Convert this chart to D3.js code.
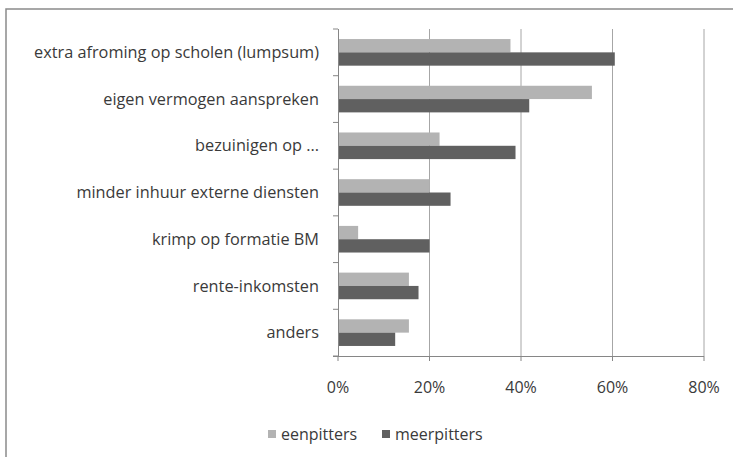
<!DOCTYPE html>
<html lang='en'>
<head>
  <meta charset='utf-8'>
  <script src="https://d3js.org/d3.v7.min.js"></script>
  <style>
    body { margin: 0; background: #fff; }
    text { font-family: "Open Sans", Lato, sans-serif; fill: #3a3a3a; }
  </style>
</head>
<body>
<div id="my_dataviz"></div>
<script>
  // data
  const categories = ["extra afroming op scholen (lumpsum)", "eigen vermogen aanspreken",
    "bezuinigen op ...", "minder inhuur externe diensten", "krimp op formatie BM",
    "rente-inkomsten", "anders"];
  const seriesNames = ["eenpitters", "meerpitters"];
  const eenpitters = [37.7, 55.5, 22.2, 20.0, 4.4, 15.5, 15.5];
  const meerpitters = [60.5, 41.8, 38.8, 24.6, 20.0, 17.6, 12.5];
  const xTicks = [0, 20, 40, 60, 80];
  const colors = ["#b3b3b3", "#606060"];

  const W = 733, H = 457;
  const margin = {top: 29, right: 29, bottom: 101, left: 338};
  const width = W - margin.left - margin.right,
        height = H - margin.top - margin.bottom;

  const root = d3.select("#my_dataviz").append("svg")
      .attr("width", W).attr("height", H);

  // outer chart frame (runs off the right and bottom edges)
  root.append("rect")
      .attr("x", 6).attr("y", 9)
      .attr("width", W).attr("height", H)
      .attr("fill", "none").attr("stroke", "#8a8a8a").attr("stroke-width", 1.5);

  const svg = root.append("g")
      .attr("transform", `translate(${margin.left}, ${margin.top})`);

  const x = d3.scaleLinear().domain([0, 80]).range([0, width]);
  const y = d3.scaleBand().domain(categories).range([0, height]);
  const inner = d3.scaleBand().domain(seriesNames)
      .range([y.bandwidth() * 0.215, y.bandwidth() * 0.785]);

  // gridlines
  svg.append("g").selectAll("line")
    .data(xTicks.slice(1))
    .join("line")
      .attr("x1", d => x(d)).attr("x2", d => x(d))
      .attr("y1", 0).attr("y2", height)
      .attr("stroke", "#a6a6a6").attr("stroke-width", 1);

  // bars
  const series = [eenpitters, meerpitters];
  series.forEach(function(vals, s) {
    svg.append("g").selectAll("rect")
      .data(vals)
      .join("rect")
        .attr("x", 0)
        .attr("y", (d, i) => y(categories[i]) + inner(seriesNames[s]))
        .attr("width", d => x(d))
        .attr("height", inner.bandwidth())
        .attr("fill", colors[s]);
  });

  // left axis
  const yAxis = svg.append("g");
  yAxis.append("line")
      .attr("x1", 0.5).attr("x2", 0.5).attr("y1", 0).attr("y2", height)
      .attr("stroke", "#868686");
  yAxis.selectAll("line.tk")
    .data(d3.range(categories.length + 1))
    .join("line").attr("class", "tk")
      .attr("x1", -5).attr("x2", 0)
      .attr("y1", d => d * y.step()).attr("y2", d => d * y.step())
      .attr("stroke", "#868686");
  yAxis.selectAll("text")
    .data(categories)
    .join("text")
      .attr("x", -19)
      .attr("y", d => y(d) + y.bandwidth() / 2)
      .attr("dy", "0.35em")
      .attr("text-anchor", "end")
      .attr("font-size", 16.3)
      .text(d => d);

  // bottom axis
  const xAxis = svg.append("g").attr("transform", `translate(0, ${height})`);
  xAxis.append("line")
      .attr("x1", -5).attr("x2", width).attr("y1", 0.5).attr("y2", 0.5)
      .attr("stroke", "#868686");
  xAxis.selectAll("line.tk")
    .data(xTicks)
    .join("line").attr("class", "tk")
      .attr("x1", d => x(d)).attr("x2", d => x(d))
      .attr("y1", 0).attr("y2", 5)
      .attr("stroke", "#868686");
  xAxis.selectAll("text")
    .data(xTicks)
    .join("text")
      .attr("x", d => x(d))
      .attr("y", 31)
      .attr("dy", "0.35em")
      .attr("text-anchor", "middle")
      .attr("font-size", 16)
      .text(d => d + "%");

  // legend
  const legend = root.append("g").attr("transform", "translate(268, 434)");
  const lx = [0, 114];
  seriesNames.forEach(function(name, s) {
    legend.append("rect")
        .attr("x", lx[s]).attr("y", -4)
        .attr("width", 8).attr("height", 8)
        .attr("fill", colors[s]);
    legend.append("text")
        .attr("x", lx[s] + 13).attr("y", 0)
        .attr("dy", "0.35em")
        .attr("font-size", 16)
        .text(name);
  });
</script>
</body>
</html>
